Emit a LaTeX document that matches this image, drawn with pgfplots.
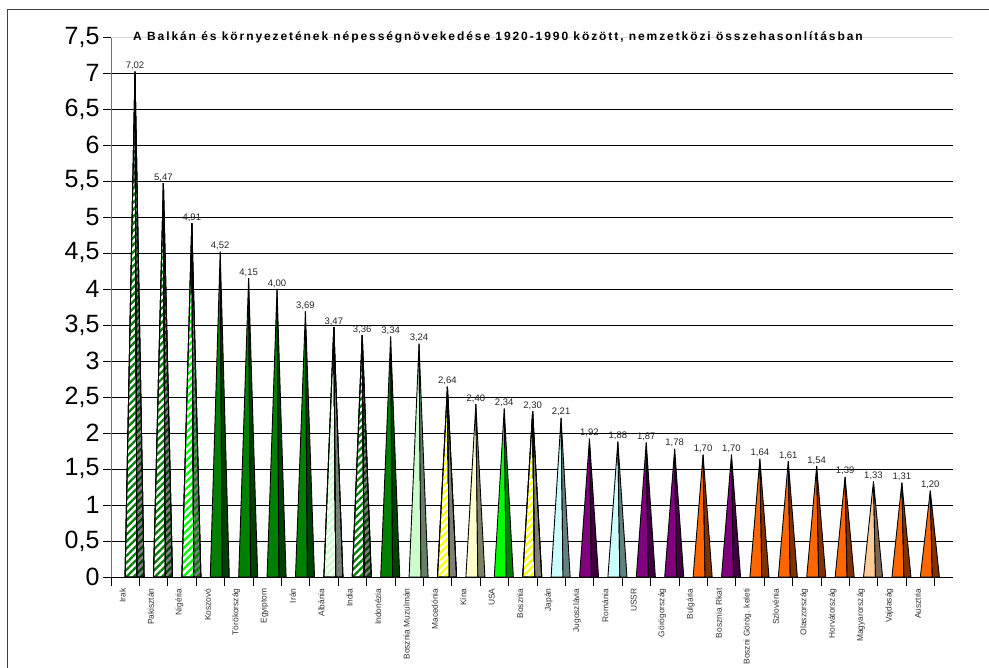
\documentclass[border=0pt]{standalone}
\usepackage{fontspec}
\setmainfont{Liberation Sans}
\usepackage{pgfplots}
\pgfplotsset{compat=1.18}
\usetikzlibrary{patterns.meta}

\definecolor{cGreen}{RGB}{0,128,0}
\definecolor{cGreenD}{RGB}{0,64,0}
\definecolor{cLime}{RGB}{0,255,0}
\definecolor{cPale}{RGB}{204,255,204}
\definecolor{cPaleD}{RGB}{102,128,102}
\definecolor{cYel}{RGB}{255,255,0}
\definecolor{cLtYel}{RGB}{255,255,204}
\definecolor{cLtYelD}{RGB}{128,128,102}
\definecolor{cCyan}{RGB}{204,255,255}
\definecolor{cCyanD}{RGB}{102,128,128}
\definecolor{cPurp}{RGB}{128,0,128}
\definecolor{cPurpD}{RGB}{64,0,64}
\definecolor{cOra}{RGB}{255,102,0}
\definecolor{cOraD}{RGB}{128,51,0}
\definecolor{cPeach}{RGB}{255,204,153}
\definecolor{cPeachD}{RGB}{128,102,80}
\definecolor{cGray}{RGB}{128,128,128}

\tikzset{
  pyr/.style={draw=black, line width=0.9pt, line join=miter},
  hatch/.style 2 args={pyr, preaction={fill=#1},
    preaction={pattern={Lines[angle=45,distance=5pt,line width=2.3pt]}, pattern color=#2}},
  HGF/.style={hatch={white}{cGreen}},   HGS/.style={hatch={cGray}{cGreenD}},
  HLF/.style={hatch={white}{cLime}},    HLS/.style={hatch={cGray}{cGreen}},
  HPF/.style={hatch={white}{cPale}},    HPS/.style={hatch={cGray}{cPaleD}},
  HYF/.style={hatch={white}{cYel}},     HYS/.style={hatch={cGray}{cLtYelD}},
  GF/.style={pyr, fill=cGreen},   GS/.style={pyr, fill=cGreenD},
  PGF/.style={pyr, fill=cPale},   PGS/.style={pyr, fill=cPaleD},
  KYF/.style={pyr, fill=cLtYel},  KYS/.style={pyr, fill=cLtYelD},
  LF/.style={pyr, fill=cLime},    LS/.style={pyr, fill=cGreen},
  CF/.style={pyr, fill=cCyan},    CS/.style={pyr, fill=cCyanD},
  PF/.style={pyr, fill=cPurp},    PS/.style={pyr, fill=cPurpD},
  OF/.style={pyr, fill=cOra},     OS/.style={pyr, fill=cOraD},
  MF/.style={pyr, fill=cPeach},   MS/.style={pyr, fill=cPeachD},
}

% left base, apex x, middle base, right base, value, style
\newcommand{\pyr}[6]{%
  \addplot[#6F] coordinates {(#1,0) (#2,#5) (#3,0)} --cycle;
  \addplot[#6S] coordinates {(#3,0) (#2,#5) (#4,0)} --cycle;
}

\begin{document}
\begin{tikzpicture}
\useasboundingbox (0,0) rectangle (989pt,668pt);
\draw[black!75, line width=1pt] (7pt,0) -- (7pt,658pt) -- (989pt,658pt);

\begin{axis}[
    at={(111pt,91pt)}, anchor=south west,
    scale only axis,
    width=842pt, height=540pt,
    xmin=0.155, xmax=29.8,
    ymin=0, ymax=7.5,
    axis x line*=bottom, axis y line*=left,
    x axis line style={black, line width=0.9pt},
    y axis line style={black!55, line width=0.9pt},
    ytick={0,0.5,...,7},
    extra y ticks={7.5},
    extra y tick style={major grid style={black!15, line width=0.8pt}},
    ymajorgrids,
    major grid style={black, line width=0.8pt},
    tick align=outside,
    tick pos=left,
    major tick length=8pt,
    minor tick length=9pt,
    every tick/.style={black, line width=0.9pt},
    xtick={0.56,1.56,...,28.56},
    major x tick style={draw=none},
    minor xtick={0.155,1.155,...,29.155},
    xticklabels={Irak, Pakisztán, Nigéria, Koszovó, Törökország, Egyiptom, Irán,
      Albánia, India, Indonézia, Bosznia Muzulmán, Macedónia, Kína, USA, Bosznia,
      Japán, Jugoszlávia, Románia, USSR, Görögország, Bulgária, Bosznia Rkat,
      Boszni Görög. keleti, Szlovénia, Olaszország, Horvátország, Magyarország,
      Vajdaság, Ausztria},
    xticklabel style={rotate=90, anchor=east, font=\fontsize{8.4}{9}\selectfont, text=black!80},
    yticklabel style={font=\fontsize{25}{25}\selectfont},
    /pgf/number format/use comma,
    /pgf/number format/assume math mode=true,
    clip=false,
]
\pyr{0.65}{1}{1.07}{1.32}{7.02}{HG}
\pyr{1.65}{2}{2.07}{2.32}{5.47}{HG}
\pyr{2.65}{3}{3.07}{3.32}{4.91}{HL}
\pyr{3.65}{4}{4.07}{4.32}{4.52}{G}
\pyr{4.65}{5}{5.07}{5.32}{4.15}{G}
\pyr{5.65}{6}{6.07}{6.32}{4.00}{G}
\pyr{6.65}{7}{7.07}{7.32}{3.69}{G}
\pyr{7.65}{8}{8.07}{8.32}{3.47}{HP}
\pyr{8.65}{9}{9.07}{9.32}{3.36}{HG}
\pyr{9.65}{10}{10.07}{10.32}{3.34}{G}
\pyr{10.65}{11}{11.07}{11.32}{3.24}{PG}
\pyr{11.65}{12}{12.07}{12.32}{2.64}{HY}
\pyr{12.65}{13}{13.07}{13.32}{2.40}{KY}
\pyr{13.65}{14}{14.07}{14.32}{2.34}{L}
\pyr{14.65}{15}{15.07}{15.32}{2.30}{HY}
\pyr{15.65}{16}{16.07}{16.32}{2.21}{C}
\pyr{16.65}{17}{17.07}{17.32}{1.92}{P}
\pyr{17.65}{18}{18.07}{18.32}{1.88}{C}
\pyr{18.65}{19}{19.07}{19.32}{1.87}{P}
\pyr{19.65}{20}{20.07}{20.32}{1.78}{P}
\pyr{20.65}{21}{21.07}{21.32}{1.70}{O}
\pyr{21.65}{22}{22.07}{22.32}{1.70}{P}
\pyr{22.65}{23}{23.07}{23.32}{1.64}{O}
\pyr{23.65}{24}{24.07}{24.32}{1.61}{O}
\pyr{24.65}{25}{25.07}{25.32}{1.54}{O}
\pyr{25.65}{26}{26.07}{26.32}{1.39}{O}
\pyr{26.65}{27}{27.07}{27.32}{1.33}{M}
\pyr{27.65}{28}{28.07}{28.32}{1.31}{O}
\pyr{28.65}{29}{29.07}{29.32}{1.20}{O}

% value labels at the apexes
\addplot[draw=none, mark=none, nodes near coords={\pgfmathprintnumber[fixed,fixed zerofill,precision=2,use comma]{\pgfplotspointmeta}},
  every node near coord/.style={font=\fontsize{9.5}{10}\selectfont, text=black!85, anchor=south, inner sep=1.5pt}]
  coordinates {(1,7.02) (2,5.47) (3,4.91) (4,4.52) (5,4.15) (6,4.00) (7,3.69) (8,3.47)
    (9,3.36) (10,3.34) (11,3.24) (12,2.64) (13,2.40) (14,2.34) (15,2.30) (16,2.21)
    (17,1.92) (18,1.88) (19,1.87) (20,1.78) (21,1.70) (22,1.70) (23,1.64) (24,1.61)
    (25,1.54) (26,1.39) (27,1.33) (28,1.31) (29,1.20)};
\end{axis}

\node[anchor=west, inner sep=0pt, font=\fontsize{12}{13}\selectfont\bfseries\addfontfeatures{LetterSpace=16}]
  at (133pt,631pt) {A Balkán és környezetének népességnövekedése 1920-1990 között, nemzetközi összehasonlításban};
\end{tikzpicture}
\end{document}
